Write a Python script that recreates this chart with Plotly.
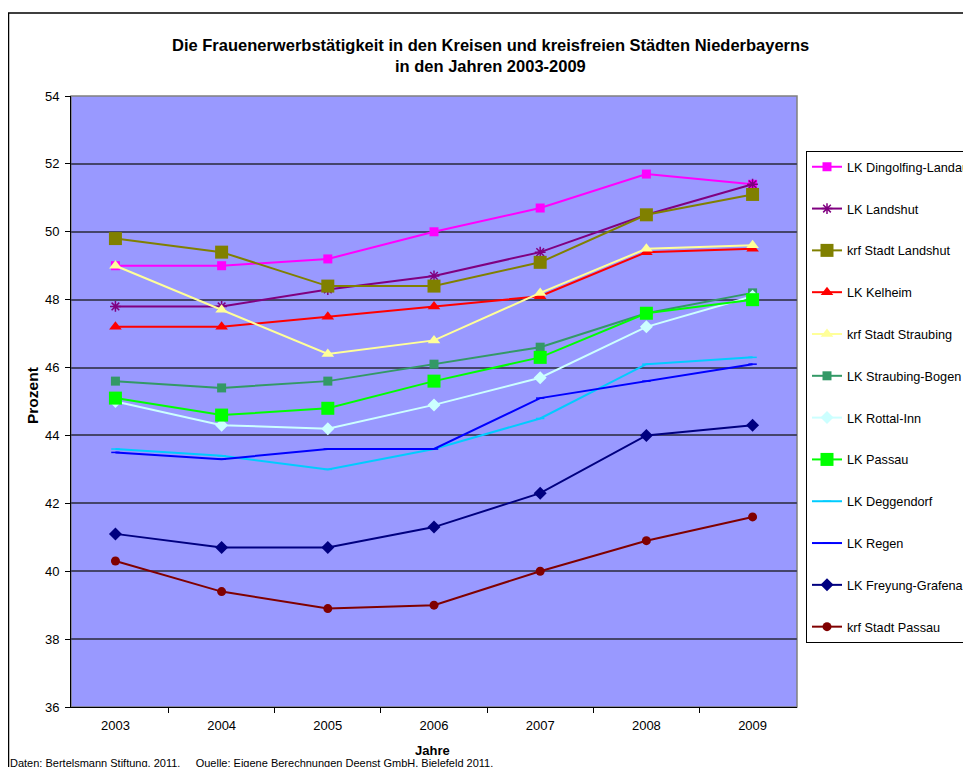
import plotly.graph_objects as go

years = ["2003", "2004", "2005", "2006", "2007", "2008", "2009"]

dingolfing_landau = [49.0, 49.0, 49.2, 50.0, 50.7, 51.7, 51.4]
lk_landshut = [47.8, 47.8, 48.3, 48.7, 49.4, 50.5, 51.4]
krf_landshut = [49.8, 49.4, 48.4, 48.4, 49.1, 50.5, 51.1]
kelheim = [47.2, 47.2, 47.5, 47.8, 48.1, 49.4, 49.5]
krf_straubing = [49.0, 47.7, 46.4, 46.8, 48.2, 49.5, 49.6]
straubing_bogen = [45.6, 45.4, 45.6, 46.1, 46.6, 47.6, 48.2]
rottal_inn = [45.0, 44.3, 44.2, 44.9, 45.7, 47.2, 48.1]
lk_passau = [45.1, 44.6, 44.8, 45.6, 46.3, 47.6, 48.0]
deggendorf = [43.6, 43.4, 43.0, 43.6, 44.5, 46.1, 46.3]
regen = [43.5, 43.3, 43.6, 43.6, 45.1, 45.6, 46.1]
freyung = [41.1, 40.7, 40.7, 41.3, 42.3, 44.0, 44.3]
krf_passau = [40.3, 39.4, 38.9, 39.0, 40.0, 40.9, 41.6]

series = [
    ("LK Dingolfing-Landau", dingolfing_landau, "#FF00FF", "square", 9),
    ("LK Landshut", lk_landshut, "#800080", "asterisk-open", 9),
    ("krf Stadt Landshut", krf_landshut, "#808000", "square", 13),
    ("LK Kelheim", kelheim, "#FF0000", "triangle-up", 11),
    ("krf Stadt Straubing", krf_straubing, "#FFFF99", "triangle-up", 11),
    ("LK Straubing-Bogen", straubing_bogen, "#339966", "square", 9),
    ("LK Rottal-Inn", rottal_inn, "#CCFFFF", "diamond", 10),
    ("LK Passau", lk_passau, "#00FF00", "square", 13),
    ("LK Deggendorf", deggendorf, "#00CCFF", "line-ew", 6),
    ("LK Regen", regen, "#0000FF", "line-ew", 6),
    ("LK Freyung-Grafenau", freyung, "#000080", "diamond", 10),
    ("krf Stadt Passau", krf_passau, "#800000", "circle", 9),
]

FONT = "Arial, Liberation Sans, sans-serif"

fig = go.Figure()
for i, (name, vals, color, sym, size) in enumerate(series):
    marker = dict(symbol=sym, size=size, color=color)
    if sym in ("asterisk-open", "line-ew"):
        marker["line"] = dict(color=color, width=1.5)
    else:
        marker["line"] = dict(width=0)
    fig.add_trace(go.Scatter(
        x=years, y=vals, name=name, mode="lines+markers",
        line=dict(color=color, width=2),
        marker=marker,
        legendgroup=f"g{i}",
    ))

# page body adds an 8px offset; work in screen pixels and convert
OFF = 8
W, H = 971 - OFF, 767 - OFF
L, T, PW, PH = 71 - OFF, 96 - OFF, 726, 611

def px(xs):
    return (xs - OFF - L) / PW

def py(ys):
    return (T + PH - (ys - OFF)) / PH

fig.update_layout(
    width=W, height=H,
    margin=dict(l=L, r=W - L - PW, t=T, b=H - T - PH, autoexpand=False),
    paper_bgcolor="white",
    plot_bgcolor="#9999FF",
    font=dict(family=FONT, size=13, color="black"),
    showlegend=True,
    legend=dict(
        x=px(806), y=py(151), xanchor="left", yanchor="top",
        bordercolor="black", borderwidth=1, bgcolor="white",
        font=dict(family=FONT, size=12.7, color="black"),
        tracegroupgap=22.3,
        itemwidth=30,
    ),
    xaxis=dict(
        type="category", showgrid=False, showline=True, linecolor="black", linewidth=1,
        ticks="outside", tickson="boundaries", ticklen=5, tickcolor="black",
        tickfont=dict(size=13), zeroline=False, ticklabelstandoff=6,
    ),
    yaxis=dict(
        range=[36, 54], dtick=2, showgrid=True, gridcolor="#45456a", gridwidth=2,
        showline=True, linecolor="black", linewidth=1,
        ticks="outside", ticklen=5, tickcolor="black",
        tickfont=dict(size=13), zeroline=False, ticklabelstandoff=3,
    ),
    shapes=[
        dict(type="rect", xref="paper", yref="paper", x0=px(8.5), y0=py(800), x1=px(1000), y1=py(13),
             line=dict(color="black", width=1.5), fillcolor="rgba(0,0,0,0)", layer="below"),
        dict(type="rect", xref="paper", yref="paper", x0=0, y0=0, x1=1, y1=1,
             line=dict(color="#808080", width=1.5), fillcolor="rgba(0,0,0,0)", layer="below"),
    ],
    annotations=[
        dict(text="<b>Die Frauenerwerbstätigkeit in den Kreisen und kreisfreien Städten Niederbayerns</b>",
             xref="paper", yref="paper", x=px(491), y=py(45), xanchor="center", yanchor="middle",
             showarrow=False, font=dict(size=16.5)),
        dict(text="<b>in den Jahren 2003-2009</b>",
             xref="paper", yref="paper", x=px(491), y=py(66), xanchor="center", yanchor="middle",
             showarrow=False, font=dict(size=16.5)),
        dict(text="<b>Prozent</b>", xref="paper", yref="paper", x=px(32), y=py(396),
             xanchor="center", yanchor="middle", textangle=-90, showarrow=False, font=dict(size=15.5)),
        dict(text="<b>Jahre</b>", xref="paper", yref="paper", x=px(432), y=py(750),
             xanchor="center", yanchor="middle", showarrow=False, font=dict(size=13)),
        dict(text="Daten: Bertelsmann Stiftung, 2011.     Quelle: Eigene Berechnungen Deenst GmbH, Bielefeld 2011.",
             xref="paper", yref="paper", x=px(8), y=py(763), xanchor="left", yanchor="middle",
             showarrow=False, font=dict(size=11)),
    ],
)

fig.write_html("out.html")
